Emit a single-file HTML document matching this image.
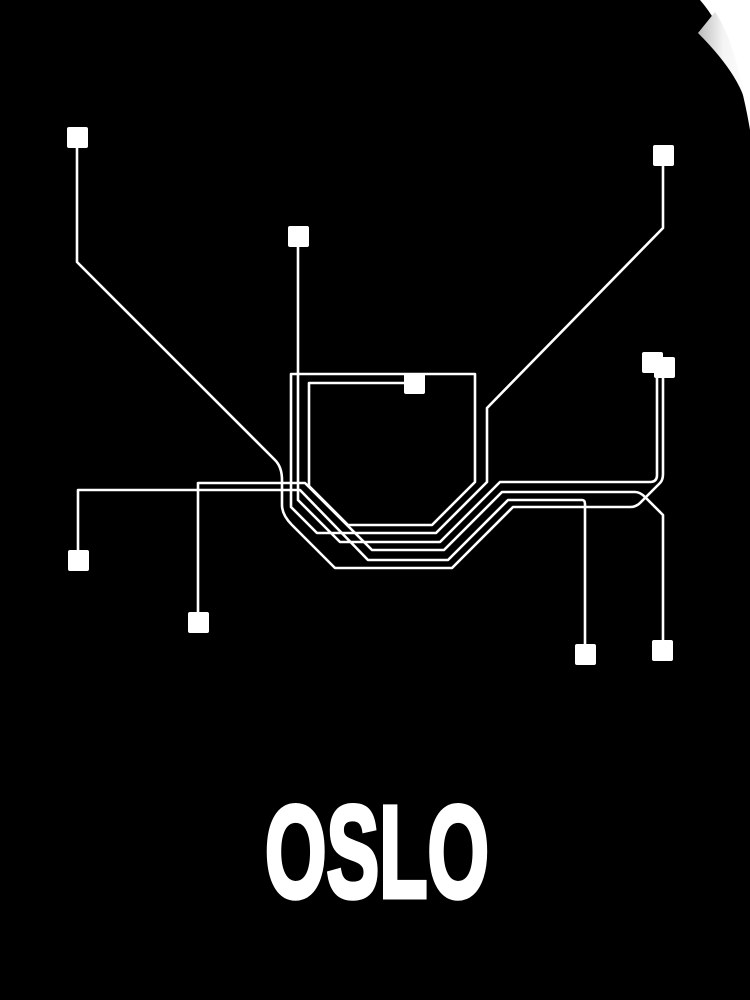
<!DOCTYPE html>
<html><head><style>html,body{margin:0;padding:0;background:#fff;}svg{display:block}</style></head>
<body>
<svg width="750" height="1000" viewBox="0 0 750 1000" xmlns="http://www.w3.org/2000/svg">
<defs><linearGradient id="g" x1="0" y1="0" x2="1" y2="0"><stop offset="0" stop-color="#bbb"/><stop offset="0.5" stop-color="#f4f4f4"/><stop offset="1" stop-color="#fff"/></linearGradient></defs>
<rect width="750" height="1000" fill="#fff"/>
<path d="M0,0 H700 Q735,40 750,130 V1000 H0 Z" fill="#000"/>
<path d="M715,12 Q735,40 748,115 Q745,80 698,33 Z" fill="url(#g)"/>
<g fill="none" stroke="#fff" stroke-width="2.6" stroke-linejoin="round" stroke-linecap="round">
<path d="M414,383 H309 V486 L348,525 H432 L475,482 V374 H291 V507 L317,533 H436 L487,482 V408 L663,228 V155"/>
<path d="M298,236 V500 L340,542 H440 L500,482 H650 Q657,482 657,475 V362"/>
<path d="M198,622 V483 H305 L372,550 H444 L502,492 H635 Q640,492 645,497 L663,515 V650"/>
<path d="M78,560 V490 H300 L368,560 H448 L508,500 H582 Q585,500 585,504 V654"/>
<path d="M77,137 V262 L275,460 Q282,467 282,480 V505 Q282,515 292,525 L335,568 H452 L513,507 H630 Q636,507 640,503 L660,483 Q663,480 663,474 V367"/>
</g>
<g fill="#fff">
<rect x="67" y="127" width="21" height="21" rx="2"/>
<rect x="653" y="145" width="21" height="21" rx="2"/>
<rect x="288" y="226" width="21" height="21" rx="2"/>
<rect x="404" y="373" width="21" height="21" rx="2"/>
<rect x="642" y="352" width="21" height="21" rx="2"/>
<rect x="654" y="357" width="21" height="21" rx="2"/>
<rect x="68" y="550" width="21" height="21" rx="2"/>
<rect x="188" y="612" width="21" height="21" rx="2"/>
<rect x="575" y="644" width="21" height="21" rx="2"/>
<rect x="652" y="640" width="21" height="21" rx="2"/>
</g>
<text x="265" y="897" textLength="224" lengthAdjust="spacingAndGlyphs" font-family="Liberation Sans, sans-serif" font-weight="bold" font-size="131" fill="#fff" stroke="#fff" stroke-width="5" stroke-linejoin="miter">OSLO</text>
</svg>
</body></html>
